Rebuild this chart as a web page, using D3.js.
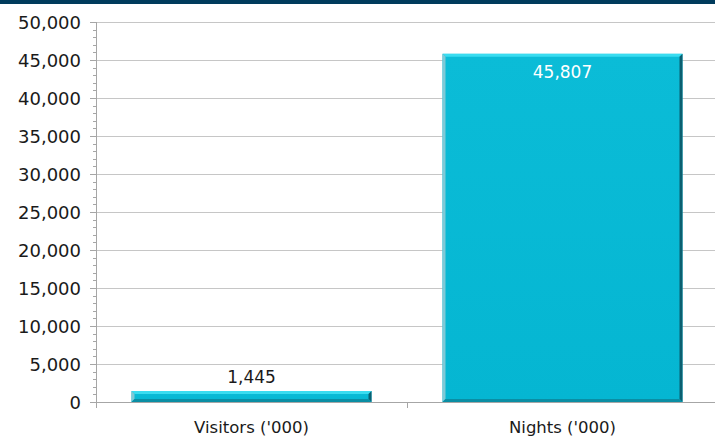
<!DOCTYPE html>
<html>
<head>
<meta charset="utf-8">
<script src="https://cdn.jsdelivr.net/npm/d3@7/dist/d3.min.js"></script>
<style>
  html, body { margin: 0; padding: 0; background: #ffffff; }
  svg { display: block; }
  text { font-family: "DejaVu Sans", Verdana, sans-serif; }
</style>
</head>
<body>
<svg id="chart" width="715" height="437"></svg>
<script>
// Visitors and nights, thousands
const categories = ["Visitors ('000)", "Nights ('000)"];
const values = [1445, 45807];
const valueLabels = ["1,445", "45,807"];
const yTicks = [0, 5000, 10000, 15000, 20000, 25000, 30000, 35000, 40000, 45000, 50000];

const W = 715, H = 437;
const plot = { left: 96, right: 718, top: 22, bottom: 402 };

const svg = d3.select("#chart");

// header strip
svg.append("rect").attr("x", 0).attr("y", 0).attr("width", W).attr("height", 4).attr("fill", "#003b5c");

const x = d3.scaleBand().domain(categories)
  .range([plot.left, plot.right])
  .paddingInner(0.2283).paddingOuter(0.11415);
const band = d3.scaleBand().domain(categories).range([plot.left, plot.right]).padding(0);
const y = d3.scaleLinear().domain([0, 50000]).range([plot.bottom, plot.top]);

// gridlines
svg.append("g").selectAll("line").data(yTicks.filter(d => d > 0)).join("line")
  .attr("x1", plot.left).attr("x2", W)
  .attr("y1", d => Math.round(y(d)) + 0.5).attr("y2", d => Math.round(y(d)) + 0.5)
  .attr("stroke", "#c6c6c6").attr("stroke-width", 1);

// bar gradients
const defs = svg.append("defs");
const gFace = defs.append("linearGradient").attr("id", "face").attr("x1", 0).attr("x2", 0).attr("y1", 0).attr("y2", 1);
gFace.append("stop").attr("offset", 0).attr("stop-color", "#0bbcd7");
gFace.append("stop").attr("offset", 1).attr("stop-color", "#05b6d2");

const bev = 3;
const bars = svg.append("g").selectAll("g").data(categories).join("g");
bars.each(function(c, i) {
  const g = d3.select(this);
  const x0 = x(c), w = x.bandwidth();
  const y0 = y(values[i]), y1 = y(0);
  const h = y1 - y0;
  // base face
  g.append("rect").attr("x", x0).attr("y", y0).attr("width", w).attr("height", h).attr("fill", "url(#face)");
  // top bevel
  g.append("polygon").attr("points", [[x0, y0], [x0 + w, y0], [x0 + w - bev, y0 + bev], [x0 + bev, y0 + bev]].join(" "))
    .attr("fill", "#3adcf0");
  // left bevel
  g.append("polygon").attr("points", [[x0, y0], [x0 + bev, y0 + bev], [x0 + bev, y1 - bev], [x0, y1]].join(" "))
    .attr("fill", "#7fc9d6");
  // right bevel
  g.append("polygon").attr("points", [[x0 + w, y0], [x0 + w, y1], [x0 + w - bev, y1 - bev], [x0 + w - bev, y0 + bev]].join(" "))
    .attr("fill", "#0b5f70");
  // bottom bevel
  g.append("polygon").attr("points", [[x0, y1], [x0 + w, y1], [x0 + w - bev, y1 - bev], [x0 + bev, y1 - bev]].join(" "))
    .attr("fill", "#0a8ea4");
});

// value labels
svg.append("g").selectAll("text").data(categories).join("text")
  .attr("x", c => x(c) + x.bandwidth() / 2)
  .attr("y", (c, i) => values[i] > 25000 ? y(values[i]) + 24 : y(values[i]) - 8)
  .attr("text-anchor", "middle")
  .attr("font-size", 17)
  .attr("fill", (c, i) => values[i] > 25000 ? "#ffffff" : "#1a1a1a")
  .text((c, i) => valueLabels[i]);

// value axis
const axisColor = "#a6a6a6";
const yAxis = svg.append("g");
yAxis.append("line").attr("x1", plot.left + 0.5).attr("x2", plot.left + 0.5)
  .attr("y1", plot.top).attr("y2", plot.bottom).attr("stroke", axisColor);
const minor = d3.range(0, 50001, 1000).filter(d => d % 5000 !== 0);
yAxis.selectAll("line.minor").data(minor).join("line").attr("class", "minor")
  .attr("x1", plot.left - 3).attr("x2", plot.left)
  .attr("y1", d => Math.round(y(d)) + 0.5).attr("y2", d => Math.round(y(d)) + 0.5)
  .attr("stroke", axisColor);
yAxis.selectAll("line.major").data(yTicks).join("line").attr("class", "major")
  .attr("x1", plot.left - 6).attr("x2", plot.left)
  .attr("y1", d => Math.round(y(d)) + 0.5).attr("y2", d => Math.round(y(d)) + 0.5)
  .attr("stroke", axisColor);
yAxis.selectAll("text").data(yTicks).join("text")
  .attr("x", 81).attr("y", d => y(d) + 6.5)
  .attr("text-anchor", "end").attr("font-size", 18).attr("fill", "#1a1a1a")
  .text(d => d3.format(",")(d));

// category axis
const xAxis = svg.append("g");
xAxis.append("line").attr("x1", plot.left).attr("x2", W)
  .attr("y1", plot.bottom + 0.5).attr("y2", plot.bottom + 0.5).attr("stroke", axisColor);
const bounds = [plot.left, band(categories[1])];
xAxis.selectAll("line.tick").data(bounds).join("line").attr("class", "tick")
  .attr("x1", d => Math.round(d) + 0.5).attr("x2", d => Math.round(d) + 0.5)
  .attr("y1", plot.bottom).attr("y2", plot.bottom + 6).attr("stroke", axisColor);
xAxis.selectAll("text").data(categories).join("text")
  .attr("x", c => band(c) + band.bandwidth() / 2).attr("y", 433)
  .attr("text-anchor", "middle").attr("font-size", 16.5).attr("fill", "#1a1a1a")
  .text(c => c);
</script>
</body>
</html>
